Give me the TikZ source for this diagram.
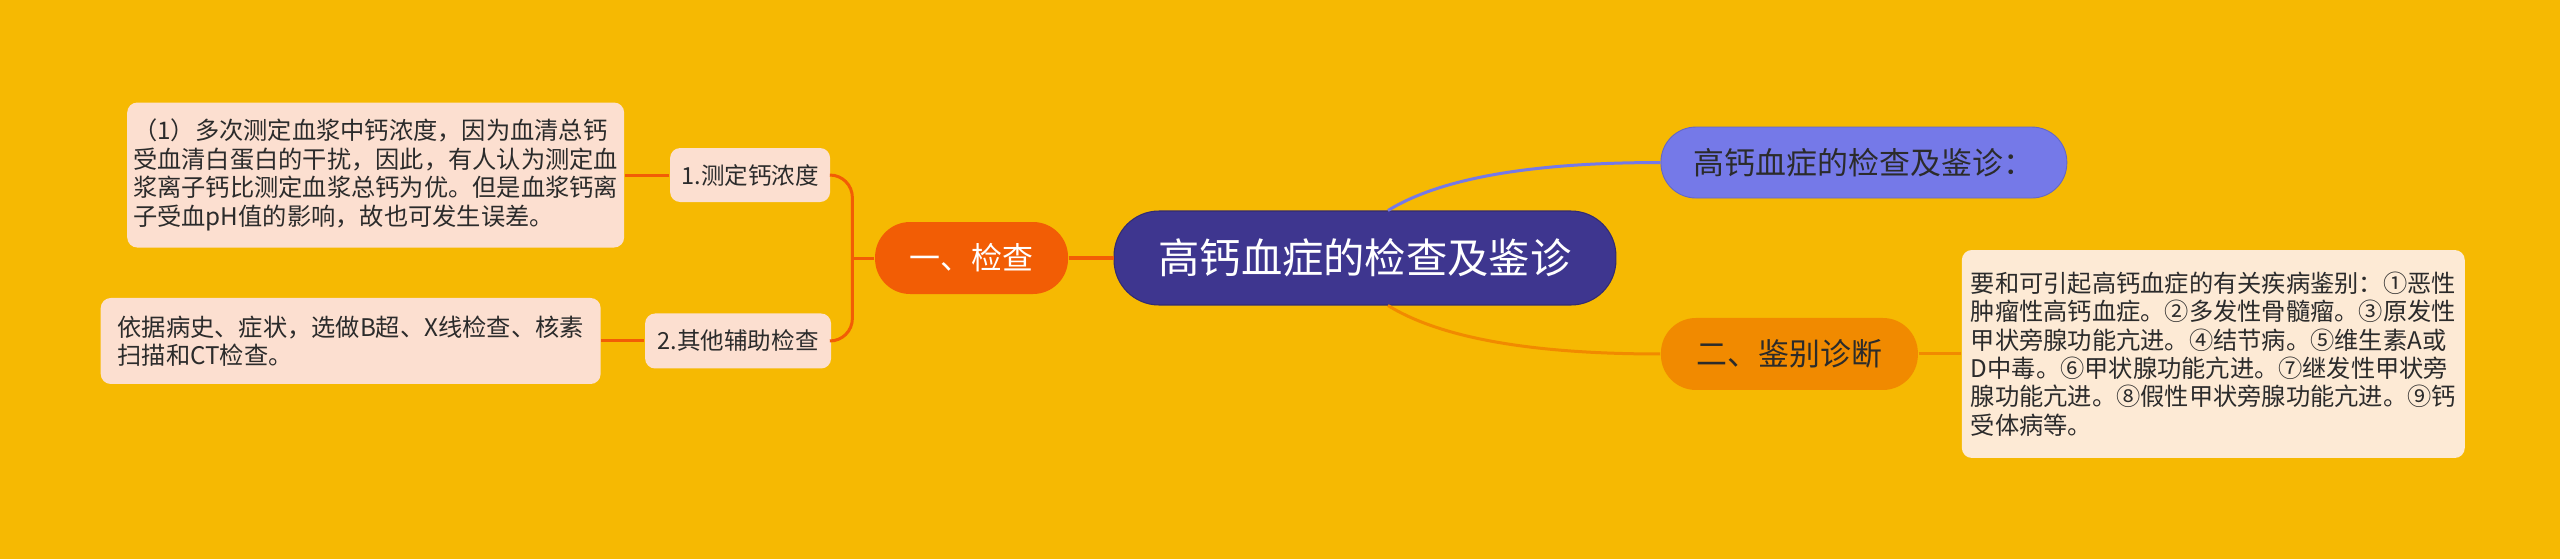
\documentclass[tikz,border=0pt]{standalone}
\usepackage{fontspec}
\setmainfont{Noto Sans CJK SC}
\definecolor{bgc}{HTML}{F6B902}
\definecolor{rootc}{HTML}{3E368F}
\definecolor{redc}{HTML}{F25D05}
\definecolor{peach}{HTML}{FCDFD0}
\definecolor{bluec}{HTML}{7579E8}
\definecolor{orangec}{HTML}{F18A00}
\definecolor{cream}{HTML}{FDEAD5}
\definecolor{ink}{HTML}{2B2B2B}

\begin{document}
\begin{tikzpicture}[x=0.02cm, y=0.02cm, thick,
    main/.style = {rounded corners=0.9cm, minimum width=10.04cm, minimum height=1.88cm, fill=rootc, draw=rootc!80!black, line width=0.6pt, text=white, font=\fontsize{23.5pt}{28pt}\selectfont},
    branch/.style = {rounded corners=0.7cm, minimum height=1.44cm, text=ink, font=\fontsize{17.6pt}{21pt}\selectfont},
    sub/.style = {rounded corners=0.2cm, fill=peach, text=ink, font=\fontsize{13.4pt}{16pt}\selectfont},
    leaf/.style = {rounded corners=0.2cm, align=left, text=ink, font=\fontsize{13.8pt}{16.2pt}\selectfont},
    link/.style = {line width=0.06cm}]
    \fill[bgc] (-1365,-301) rectangle (1195,258);
    \useasboundingbox (-1365,-301) rectangle (1195,258);
    \node[main] (1) at (0,0) {高钙血症的检查及鉴诊};
    \node[branch] (2) [left of=1, node distance={7.87cm}, fill=redc, text=white, minimum width=3.86cm] {一、检查};
    \node[sub] (3) [left of=2, node distance={4.43cm}, yshift=1.66cm, minimum width=3.2cm, minimum height=1.08cm] {1.测定钙浓度};
    \node[sub] (4) [left of=2, node distance={4.67cm}, yshift=-1.66cm, minimum width=3.72cm, minimum height=1.1cm] {2.其他辅助检查};
    \node[leaf] (5) [left of=3, node distance={7.49cm}, fill=peach, minimum width=9.94cm, minimum height=2.9cm] {（1）多次测定血浆中钙浓度，因为血清总钙\\受血清白蛋白的干扰，因此，有人认为测定血\\浆离子钙比测定血浆总钙为优。但是血浆钙离\\子受血pH值的影响，故也可发生误差。};
    \node[leaf] (6) [left of=4, node distance={7.75cm}, fill=peach, minimum width=10cm, minimum height=1.72cm] {依据病史、症状，选做B超、X线检查、核素\\扫描和CT检查。};
    \node[branch] (7) [right of=1, node distance={9.98cm}, yshift=1.91cm, fill=bluec, draw=bluec!85!black, line width=0.5pt, minimum width=8.12cm, minimum height=1.42cm] {高钙血症的检查及鉴诊：};
    \node[branch] (8) [right of=1, node distance={8.49cm}, yshift=-1.92cm, fill=orangec, minimum width=5.14cm] {二、鉴别诊断};
    \node[leaf] (9) [right of=8, node distance={8.48cm}, fill=cream, minimum width=10.06cm, minimum height=4.16cm] {要和可引起高钙血症的有关疾病鉴别：①恶性\\肿瘤性高钙血症。②多发性骨髓瘤。③原发性\\甲状旁腺功能亢进。④结节病。⑤维生素A或\\D中毒。⑥甲状腺功能亢进。⑦继发性甲状旁\\腺功能亢进。⑧假性甲状旁腺功能亢进。⑨钙\\受体病等。};
    % left side
    \draw[redc, line width=0.08cm] (2) -- (1);
    \draw[redc, link] (2.west) -- ++(-22,0) coordinate (s);
    \draw[redc, link, rounded corners=0.45cm] (3.east) -| (s) |- (4.east);
    \draw[redc, link] (3) -- (5);
    \draw[redc, link] (4) -- (6);
    % right side
    \draw[bluec, link] ([xshift=0.46cm]1.north) .. controls +(52,32) and +(-131,0) .. (7.west);
    \draw[orangec, link] ([xshift=0.46cm]1.south) .. controls +(52,-32) and +(-131,0) .. (8.west);
    \draw[orangec, link] (8) -- (9);
\end{tikzpicture}
\end{document}
